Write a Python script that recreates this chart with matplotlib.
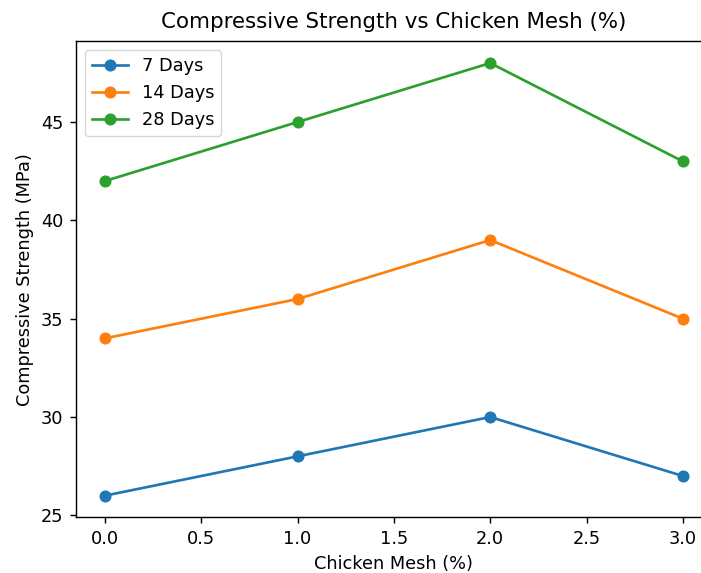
import matplotlib.pyplot as plt

mesh_pct = [0, 1, 2, 3]
days_7 = [26, 28, 30, 27]
days_14 = [34, 36, 39, 35]
days_28 = [42, 45, 48, 43]

# reference looks like a default figure scaled up ~1.28x
s = 1.28
plt.rcParams['font.size'] = 10 * s
plt.rcParams['lines.linewidth'] = 1.5 * s
plt.rcParams['lines.markersize'] = 6 * s
plt.rcParams['axes.linewidth'] = 0.8 * s
plt.rcParams['axes.titlepad'] = 6 * s + 2
plt.rcParams['axes.labelpad'] = 4 * s
plt.rcParams['xtick.major.size'] = 3.5 * s
plt.rcParams['ytick.major.size'] = 3.5 * s
plt.rcParams['xtick.major.width'] = 0.8 * s
plt.rcParams['ytick.major.width'] = 0.8 * s
plt.rcParams['xtick.major.pad'] = 3.5 * s
plt.rcParams['ytick.major.pad'] = 3.5 * s

fig = plt.figure(figsize=(7.01, 5.73), dpi=100)
ax = fig.add_axes([0.1084, 0.0972, 0.907, 0.8305])
ax.plot(mesh_pct, days_7, marker='o', label='7 Days')
ax.plot(mesh_pct, days_14, marker='o', label='14 Days')
ax.plot(mesh_pct, days_28, marker='o', label='28 Days')

ax.set_title('Compressive Strength vs Chicken Mesh (%)')
ax.set_xlabel('Chicken Mesh (%)')
ax.set_ylabel('Compressive Strength (MPa)')
ax.legend(loc='upper left')

fig.savefig('out.png', dpi=100)
